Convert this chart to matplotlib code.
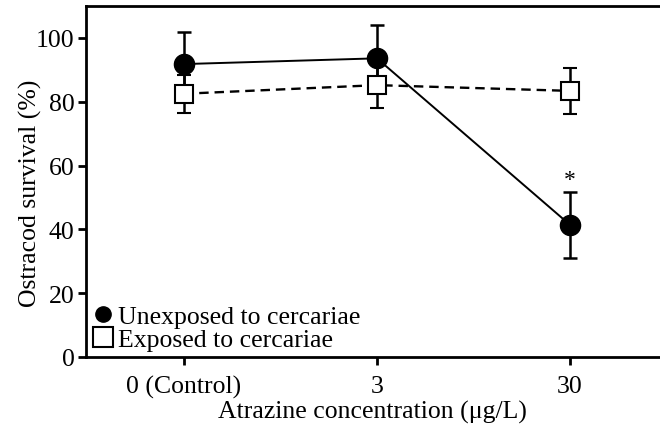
import matplotlib.pyplot as plt
import numpy as np

plt.rcParams['font.family'] = ['Liberation Serif', 'DejaVu Serif']

# data
conc_labels = ['0 (Control)', '3', '30']
unexposed = [91.8, 93.6, 41.4]
unexposed_err = [10.0, 10.4, 10.4]
exposed = [82.5, 85.2, 83.4]
exposed_err = [5.9, 7.2, 7.2]

x = np.arange(len(conc_labels))
fs = 18.5

fig = plt.figure(figsize=(6.6, 4.27), dpi=100)
ax = fig.add_axes([0.130, 0.1616, 0.870, 0.822])

# unexposed (filled circles, solid)
ax.errorbar(x, unexposed, yerr=unexposed_err, fmt='o-', color='black',
            ms=14.5, lw=1.4, capsize=5, capthick=1.8, elinewidth=1.8, zorder=2,
            label='Unexposed to cercariae')
# exposed (open squares, dashed)
ax.errorbar(x, exposed, yerr=exposed_err, fmt='s', ls=(0, (4, 2.5)), color='black',
            mfc='white', mec='black', ms=13.5, mew=1.5, lw=1.7, capsize=5, capthick=1.8,
            elinewidth=1.8, zorder=3, label='Exposed to cercariae')

ax.text(x[2], unexposed[2] + unexposed_err[2] + 0.6, '*', ha='center', va='bottom', fontsize=17)

ax.set_xlim(-0.508, 2.466)
ax.set_ylim(0, 110)
ax.set_yticks([0, 20, 40, 60, 80, 100])
ax.set_xticks(x)
ax.set_xticklabels(conc_labels)

for s in ['left', 'bottom', 'top']:
    ax.spines[s].set_linewidth(2.0)
ax.spines['right'].set_visible(False)
ax.tick_params(axis='both', direction='out', length=6, width=2.0, labelsize=fs, pad=2)
ax.tick_params(axis='x', pad=7)

ax.set_ylabel('Ostracod survival (%)', fontsize=fs, labelpad=-4)
ax.yaxis.label.set_y(0.47)
ax.set_xlabel('Atrazine concentration (\u03bcg/L)', fontsize=fs, labelpad=1)

# legend: markers only
h1 = plt.Line2D([], [], marker='o', ls='none', color='black', ms=11)
h2 = plt.Line2D([], [], marker='s', ls='none', mfc='white', mec='black', mew=1.5, ms=14)
ax.legend([h1, h2], ['Unexposed to cercariae', 'Exposed to cercariae'],
          loc='lower left', frameon=False, fontsize=fs, handlelength=0.8,
          handletextpad=0.2, borderaxespad=0.05, labelspacing=0.0,
          borderpad=0.2, bbox_to_anchor=(0.0, 0.0))

fig.savefig('out.png', dpi=100)
